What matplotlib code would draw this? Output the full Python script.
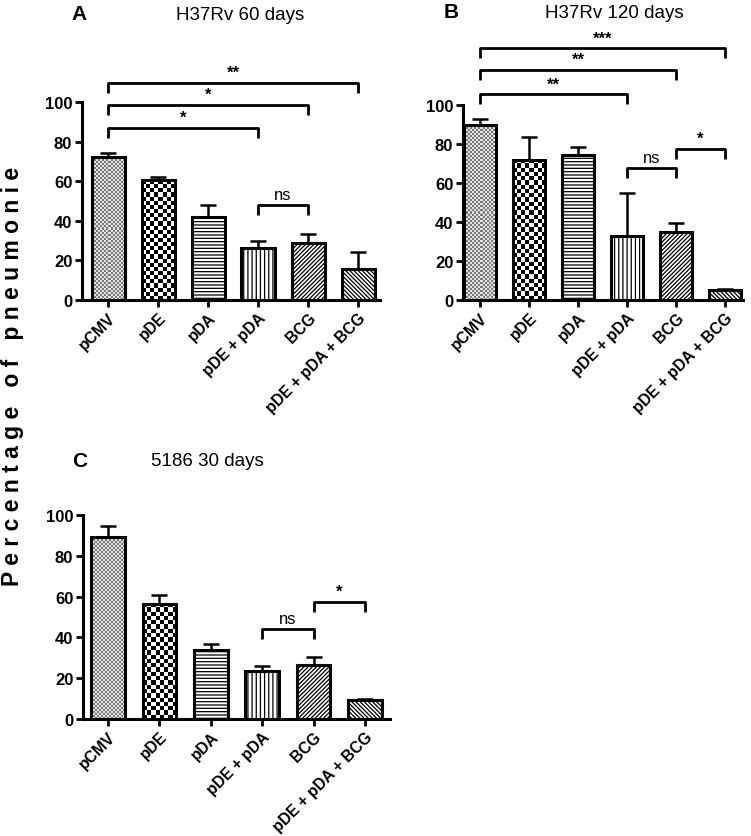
import numpy as np
import matplotlib
matplotlib.use("Agg")
import matplotlib.pyplot as plt
from matplotlib.colors import ListedColormap

plt.rcParams['font.family'] = ['Liberation Sans', 'DejaVu Sans']
plt.rcParams['hatch.linewidth'] = 0.9

groups = ["pCMV", "pDE", "pDA", "pDE + pDA", "BCG", "pDE + pDA + BCG"]

# Panel A: H37Rv 60 days
a_means = [72, 60.5, 42, 26.5, 29, 15.5]
a_errs = [2.2, 1.6, 6, 3.5, 4.5, 8.5]
a_brackets = [(0, 5, 109.5, "**"), (0, 4, 98.5, "*"), (0, 3, 87, "*"), (3, 4, 48, "ns")]

# Panel B: H37Rv 120 days
b_means = [89.5, 72, 74.5, 33, 35, 5]
b_errs = [3.5, 11.5, 4, 22, 4.5, 0.5]
b_brackets = [(0, 5, 129, "***"), (0, 4, 118, "**"), (0, 3, 105.5, "**"),
              (3, 4, 67.5, "ns"), (4, 5, 77.5, "*")]

# Panel C: 5186 30 days
c_means = [89, 56.5, 34, 23.5, 26.5, 9.5]
c_errs = [5.5, 4.5, 3, 2.5, 4, 0.3]
c_brackets = [(3, 4, 44, "ns"), (4, 5, 57.5, "*")]

W, H = 751, 837
fig = plt.figure(figsize=(W / 100, H / 100), dpi=100)


def px_axes(left, right, bottom, top):
    return fig.add_axes([left / W, 1 - bottom / H, (right - left) / W, (bottom - top) / H])


def checker(ax, bar, nx_px, ny_px, c0, c1):
    x0, y0 = bar.get_x(), bar.get_y()
    w, h = bar.get_width(), bar.get_height()
    p0 = ax.transData.transform((x0, y0))
    p1 = ax.transData.transform((x0 + w, y0 + h))
    nx = max(1, int(round(abs(p1[0] - p0[0]) / nx_px)))
    ny = max(1, int(round(abs(p1[1] - p0[1]) / ny_px)))
    ii, jj = np.meshgrid(np.arange(nx), np.arange(ny))
    arr = ((ii + jj) % 2).astype(float)
    cmap = ListedColormap([c0, c1])
    im = ax.imshow(arr, extent=(x0, x0 + w, y0, y0 + h), origin='lower', cmap=cmap,
                   interpolation='nearest', aspect='auto', zorder=3.2, vmin=0, vmax=1)
    im.set_clip_path(bar)


def panel(ax, means, errs, brackets, xlim, letter, title, letter_xy, title_xy):
    x = np.arange(len(groups))
    ax.set_xlim(*xlim)
    ax.set_ylim(0, 100)
    hatches = [None, None, '-----', '||||', '////////', '\\\\\\\\\\\\\\\\']
    ax.errorbar(x, means, yerr=[np.zeros(len(x)), errs], fmt='none', ecolor='black',
                elinewidth=1.8, capsize=5.5, capthick=1.8, zorder=2, clip_on=False)
    bars = ax.bar(x, means, width=0.66, color='white', edgecolor='black', linewidth=0,
                  zorder=3)
    for b, h in zip(bars, hatches):
        if h:
            b.set_hatch(h)
    fig.canvas.draw()
    checker(ax, bars[0], 2, 2, '#7a7a7a', '#e2e2e2')
    checker(ax, bars[1], 4.2, 4.2, 'black', 'white')
    ax.bar(x, means, width=0.66, fill=False, edgecolor='black', linewidth=2.2, zorder=4)
    ax.set_xlim(*xlim)
    ax.set_ylim(0, 100)

    for s in ['top', 'right']:
        ax.spines[s].set_visible(False)
    for s in ['left', 'bottom']:
        ax.spines[s].set_linewidth(2.2)
    ax.set_yticks(range(0, 101, 20))
    ax.set_xticks(x)
    ax.set_xticklabels(groups, rotation=45, ha='right', rotation_mode='anchor',
                       fontsize=11.3, fontweight='bold')
    for lab in ax.get_yticklabels():
        lab.set_fontweight('bold')
        lab.set_fontsize(12)
    ax.tick_params(axis='both', direction='out', length=5, width=2, pad=2)

    for (i, j, y, txt) in brackets:
        ax.plot([i, i, j, j], [y - 5, y, y, y - 5], color='black', lw=2,
                clip_on=False, zorder=5, solid_capstyle='butt')
        ax.text((i + j) / 2, y + 1.5, txt, ha='center', va='bottom', fontsize=12,
                fontweight='bold' if '*' in txt else 'normal', clip_on=False)

    fig.text(letter_xy[0] / W, 1 - letter_xy[1] / H, letter, fontsize=15,
             fontweight='bold', ha='center', va='center')
    fig.text(title_xy[0] / W, 1 - title_xy[1] / H, title, fontsize=13.5,
             ha='center', va='center')


axA = px_axes(82, 380, 301, 103)
panel(axA, a_means, a_errs, a_brackets, (-0.52, 5.44), "A", "H37Rv 60 days",
      (79, 14), (240, 15))

axB = px_axes(463, 743, 301, 106)
panel(axB, b_means, b_errs, b_brackets, (-0.35, 5.37), "B", "H37Rv 120 days",
      (451, 13), (614, 13))

axC = px_axes(83, 390, 720, 516)
panel(axC, c_means, c_errs, c_brackets, (-0.49, 5.49), "C", "5186 30 days",
      (80, 462), (207, 462))

ylabel = "   ".join(" ".join(w) for w in "Percentage of pneumonie".split())
fig.text(13 / W, 1 - 376 / H, ylabel, rotation=90, fontsize=16.5, fontweight='bold',
         ha='center', va='center')

fig.savefig("out.png", dpi=100)
